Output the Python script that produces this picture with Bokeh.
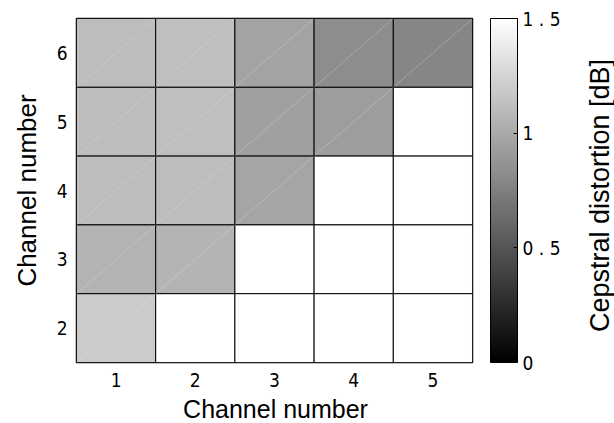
import numpy as np
from bokeh.plotting import figure
from bokeh.models import (LinearColorMapper, ColorBar, FixedTicker, Label,
                          ColumnDataSource)
from bokeh.embed import file_html
from bokeh.resources import INLINE

# ---- data ----
x_channels = [1, 2, 3, 4, 5]
y_channels = [6, 5, 4, 3, 2]
row_6 = [1.11, 1.12, 0.96, 0.83, 0.79]
row_5 = [1.11, 1.12, 0.94, 0.92, None]
row_4 = [1.11, 1.11, 0.97, None, None]
row_3 = [1.05, 1.06, None, None, None]
row_2 = [1.19, None, None, None, None]
cbar_ticks = [0, 0.5, 1, 1.5]
cbar_tick_labels = ["0", "0 . 5", "1", "1 . 5"]
x_title = "Channel number"
y_title = "Channel number"
cbar_title = "Cepstral distortion [dB]"

rows = [row_6, row_5, row_4, row_3, row_2]
xs, ys, vals = [], [], []
for yc, row in zip(y_channels, rows):
    for xc, v in zip(x_channels, row):
        xs.append(xc)
        ys.append(yc)
        vals.append(np.nan if v is None else v)
src = ColumnDataSource(dict(x=xs, y=ys, v=vals))

# faint diagonal seams inside the filled cells (as in the reference rendering)
fx = [x for x, v in zip(xs, vals) if not np.isnan(v)]
fy = [y for y, v in zip(ys, vals) if not np.isnan(v)]
diag = ColumnDataSource(dict(x0=[x - 0.5 for x in fx], y0=[y - 0.5 for y in fy],
                             x1=[x + 0.5 for x in fx], y1=[y + 0.5 for y in fy]))

gray_palette = ["#%02x%02x%02x" % (i, i, i) for i in range(256)]
mapper = LinearColorMapper(palette=gray_palette, low=0, high=1.5, nan_color="white")

TICK_FONT = "DejaVu Sans Condensed"
LABEL_FONT = "Liberation Sans"

p = figure(width=614, height=423, output_backend="svg", toolbar_location=None,
           x_range=(0.5, 5.5), y_range=(1.5, 6.5),
           min_border_left=76, min_border_top=18, min_border_bottom=61,
           min_border_right=142)
p.rect(x="x", y="y", width=1, height=1, source=src,
       fill_color={"field": "v", "transform": mapper},
       line_color="black", line_width=1)
p.segment(x0="x0", y0="y0", x1="x1", y1="y1", source=diag,
          line_color="#e6e6e6", line_alpha=0.5, line_width=0.6)

p.xgrid.visible = False
p.ygrid.visible = False
p.outline_line_color = "black"
p.outline_line_width = 1.5

for ax in (p.xaxis[0], p.yaxis[0]):
    ax.axis_line_color = None
    ax.major_tick_line_color = None
    ax.minor_tick_line_color = None
    ax.major_tick_out = 0
    ax.major_tick_in = 0
    ax.minor_tick_out = 0
    ax.minor_tick_in = 0
    ax.major_label_text_font = TICK_FONT
    ax.major_label_text_font_size = "19px"
    ax.major_label_text_color = "black"
    ax.axis_label_text_font = LABEL_FONT
    ax.axis_label_text_font_size = "26px"
    ax.axis_label_text_font_style = "normal"
    ax.axis_label_text_color = "black"
p.xaxis[0].ticker = FixedTicker(ticks=x_channels)
p.yaxis[0].ticker = FixedTicker(ticks=y_channels)
p.yaxis[0].axis_label = y_title
p.xaxis[0].major_label_standoff = 10
p.yaxis[0].major_label_standoff = 9
p.yaxis[0].axis_label_standoff = 12

xlab = Label(x=199, y=9, x_units="screen", y_units="screen", text=x_title,
             text_align="center", text_baseline="alphabetic",
             text_font=LABEL_FONT, text_font_size="25px", text_color="black")
p.add_layout(xlab, "below")

cb = ColorBar(color_mapper=mapper, ticker=FixedTicker(ticks=cbar_ticks),
              major_label_overrides={t: l for t, l in zip(cbar_ticks, cbar_tick_labels)},
              width=27, height=344, padding=0, location=(414, 0),
              bar_line_color="black", border_line_color=None,
              background_fill_alpha=0,
              major_tick_in=4, major_tick_out=0, major_tick_line_color="black",
              label_standoff=5,
              major_label_text_font=TICK_FONT, major_label_text_font_size="19px",
              major_label_text_color="black")
p.add_layout(cb, "center")

title = Label(x=127, y=167, x_units="screen", y_units="screen",
              text=cbar_title, angle=90, angle_units="deg",
              text_align="center", text_baseline="middle",
              text_font=LABEL_FONT, text_font_size="27px", text_color="black")
p.add_layout(title, "right")

open("out.html", "w").write(file_html(p, INLINE))
